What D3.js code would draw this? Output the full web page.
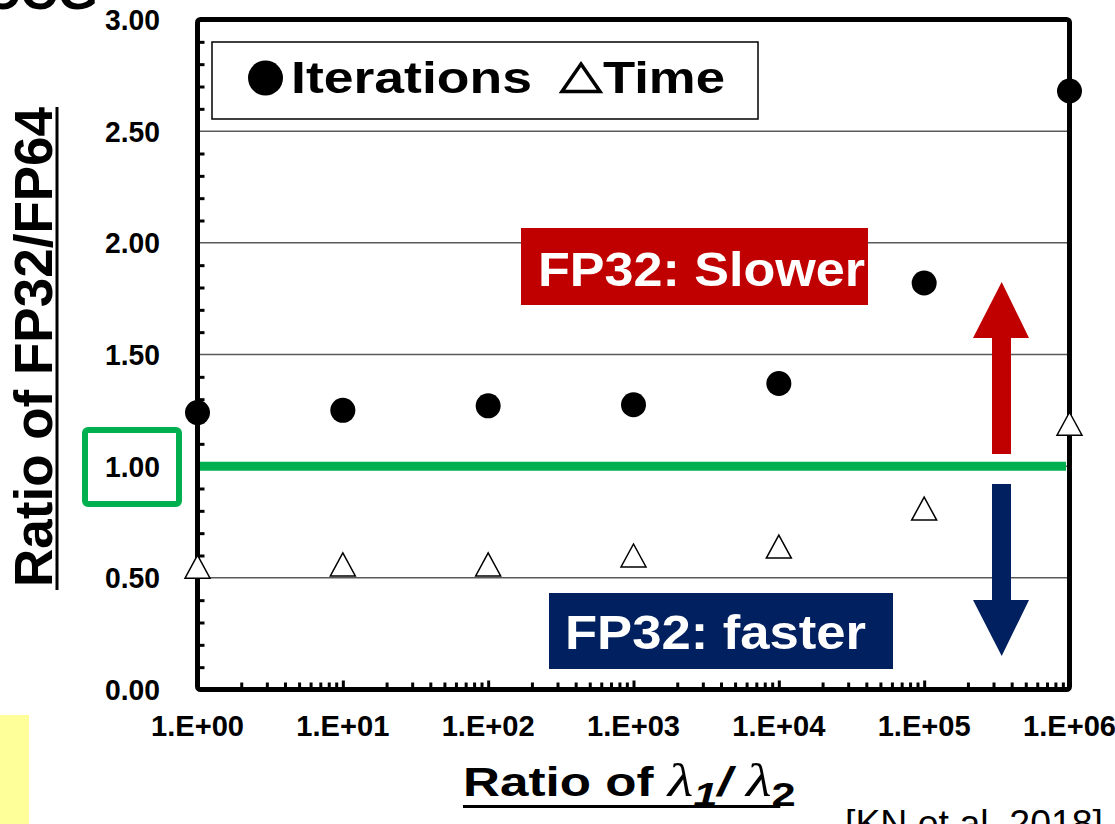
<!DOCTYPE html>
<html>
<head>
<meta charset="utf-8">
<script src="https://cdn.jsdelivr.net/npm/d3@7"></script>
<style>
  body { margin: 0; background: #fff; }
  svg { display: block; font-family: "Liberation Sans", Arial, sans-serif; }
</style>
</head>
<body>
<div id="chart"></div>
<script>
// values
const lambdaRatio = [1, 1e1, 1e2, 1e3, 1e4, 1e5, 1e6];
const iterations = [1.24, 1.25, 1.27, 1.275, 1.37, 1.82, 2.68];
const timeRatio = [0.55, 0.56, 0.56, 0.60, 0.64, 0.81, 1.19];
const xTickLabels = ["1.E+00", "1.E+01", "1.E+02", "1.E+03", "1.E+04", "1.E+05", "1.E+06"];
const yTicks = [0, 0.5, 1, 1.5, 2, 2.5, 3];
const yTickLabels = ["0.00", "0.50", "1.00", "1.50", "2.00", "2.50", "3.00"];

const W = 1115, H = 824;
const plot = {left: 197.5, right: 1069.5, top: 19.5, bottom: 689.5};
const serif = "'Liberation Serif', 'Times New Roman', serif";

const svg = d3.select("#chart").append("svg")
    .attr("width", W)
    .attr("height", H);

const x = d3.scaleLog().domain([1, 1e6]).range([plot.left, plot.right]);
const y = d3.scaleLinear().domain([0, 3]).range([plot.bottom, plot.top]);

// slide title, mostly off the top edge
svg.append("text")
    .attr("x", 98).attr("y", 9)
    .attr("text-anchor", "end")
    .attr("font-size", 52).attr("font-weight", "bold")
    .text("ICCG");

// yellow strip at bottom left
svg.append("rect")
    .attr("x", 0).attr("y", 715).attr("width", 29).attr("height", 109)
    .attr("fill", "#ffff99");

// horizontal gridlines
svg.append("g")
    .selectAll("line")
    .data(yTicks.slice(1, -1))
    .join("line")
    .attr("x1", plot.left).attr("x2", plot.right)
    .attr("y1", d => y(d)).attr("y2", d => y(d))
    .attr("stroke", "#595959").attr("stroke-width", 1.5);

// minor ticks on y axis, pointing inward
const yMinor = d3.range(1, 30).map(i => i / 10).filter(v => Math.abs(v * 2 - Math.round(v * 2)) > 1e-6);
svg.append("g")
    .attr("transform", "translate(" + plot.left + ",0)")
    .call(d3.axisRight(y).tickValues(yMinor).tickSize(7).tickFormat(""))
    .call(g => g.select(".domain").remove())
    .selectAll("line").attr("stroke", "#000").attr("stroke-width", 3);

// minor + major ticks on log x axis
let xMinor = [];
for (let d = 0; d < 6; d++) {
    for (let k = 2; k <= 9; k++) xMinor.push(k * Math.pow(10, d));
}
svg.append("g")
    .attr("transform", "translate(0," + plot.bottom + ")")
    .call(d3.axisBottom(x).tickValues(xMinor).tickSize(-7).tickFormat(""))
    .call(g => g.select(".domain").remove())
    .selectAll("line").attr("stroke", "#000").attr("stroke-width", 3);
svg.append("g")
    .attr("transform", "translate(0," + plot.bottom + ")")
    .call(d3.axisBottom(x).tickValues(lambdaRatio.slice(1, -1)).tickSize(-9).tickFormat(""))
    .call(g => g.select(".domain").remove())
    .selectAll("line").attr("stroke", "#000").attr("stroke-width", 3);

// thick frame
svg.append("rect")
    .attr("x", plot.left).attr("y", plot.top)
    .attr("width", plot.right - plot.left).attr("height", plot.bottom - plot.top)
    .attr("rx", 3)
    .attr("fill", "none").attr("stroke", "#000").attr("stroke-width", 5);

// y tick labels
svg.append("g")
    .selectAll("text")
    .data(yTicks)
    .join("text")
    .attr("x", 160).attr("y", d => y(d) + 10.5)
    .attr("text-anchor", "end")
    .attr("font-size", 29).attr("font-weight", "bold")
    .attr("textLength", 55).attr("lengthAdjust", "spacingAndGlyphs")
    .text((d, i) => yTickLabels[i]);

// x tick labels
svg.append("g")
    .selectAll("text")
    .data(lambdaRatio)
    .join("text")
    .attr("x", d => x(d)).attr("y", 735.5)
    .attr("text-anchor", "middle")
    .attr("font-size", 30).attr("font-weight", "bold")
    .attr("textLength", 93).attr("lengthAdjust", "spacingAndGlyphs")
    .text((d, i) => xTickLabels[i]);

// green box around 1.00 label
svg.append("rect")
    .attr("x", 85).attr("y", 430).attr("width", 94).attr("height", 74)
    .attr("rx", 3)
    .attr("fill", "none").attr("stroke", "#00b050").attr("stroke-width", 6);

// green reference line at 1.0
svg.append("line")
    .attr("x1", 200).attr("x2", 1066)
    .attr("y1", y(1)).attr("y2", y(1))
    .attr("stroke", "#00b050").attr("stroke-width", 9);

// legend
const legend = svg.append("g");
legend.append("rect")
    .attr("x", 212).attr("y", 42).attr("width", 546).attr("height", 77)
    .attr("fill", "#fff").attr("stroke", "#000").attr("stroke-width", 1.5);
legend.append("circle")
    .attr("cx", 265.5).attr("cy", 78).attr("r", 17.5).attr("fill", "#000");
legend.append("text")
    .attr("x", 291).attr("y", 93)
    .attr("font-size", 44).attr("font-weight", "bold")
    .attr("textLength", 241).attr("lengthAdjust", "spacingAndGlyphs")
    .text("Iterations");
legend.append("path")
    .attr("d", "M581,64 L600,91.5 L562,91.5 Z")
    .attr("fill", "none").attr("stroke", "#000").attr("stroke-width", 3.5);
legend.append("text")
    .attr("x", 603).attr("y", 93)
    .attr("font-size", 44).attr("font-weight", "bold")
    .attr("textLength", 122).attr("lengthAdjust", "spacingAndGlyphs")
    .text("Time");

// data points
svg.append("g")
    .selectAll("circle")
    .data(lambdaRatio)
    .join("circle")
    .attr("cx", d => x(d)).attr("cy", (d, i) => y(iterations[i]))
    .attr("r", 12.5).attr("fill", "#000");

svg.append("g")
    .selectAll("path")
    .data(lambdaRatio)
    .join("path")
    .attr("transform", (d, i) => "translate(" + x(d) + "," + y(timeRatio[i]) + ")")
    .attr("d", "M0,-11.5 L12.5,11.5 L-12.5,11.5 Z")
    .attr("fill", "#fff").attr("stroke", "#000").attr("stroke-width", 1.5);

// arrows
svg.append("path")
    .attr("d", "M992,454 L992,338 L973,338 L1001.7,282 L1029,338 L1011,338 L1011,454 Z")
    .attr("fill", "#c00000");
svg.append("path")
    .attr("d", "M992,484 L992,600 L973,600 L1001.7,656 L1029,600 L1011,600 L1011,484 Z")
    .attr("fill", "#002060");

// labels
svg.append("rect")
    .attr("x", 521).attr("y", 228).attr("width", 347).attr("height", 77)
    .attr("fill", "#c00000");
svg.append("text")
    .attr("x", 538).attr("y", 286)
    .attr("font-size", 48).attr("font-weight", "bold").attr("fill", "#fff")
    .attr("textLength", 327).attr("lengthAdjust", "spacingAndGlyphs")
    .text("FP32: Slower");

svg.append("rect")
    .attr("x", 549).attr("y", 593).attr("width", 344).attr("height", 76)
    .attr("fill", "#002060");
svg.append("text")
    .attr("x", 565).attr("y", 649)
    .attr("font-size", 48).attr("font-weight", "bold").attr("fill", "#fff")
    .attr("textLength", 301).attr("lengthAdjust", "spacingAndGlyphs")
    .text("FP32: faster");

// y axis title
const yTitle = svg.append("text")
    .attr("transform", "translate(52,587) rotate(-90)")
    .attr("font-size", 53).attr("font-weight", "bold")
    .text("Ratio of FP32/FP64");
const yLen = yTitle.node().getComputedTextLength();
svg.append("line")
    .attr("x1", 57).attr("x2", 57)
    .attr("y1", 590).attr("y2", 587 - yLen)
    .attr("stroke", "#000").attr("stroke-width", 3);

// x axis title (slide text is stretched sideways)
const xTitleG = svg.append("g")
    .attr("transform", "translate(463,796) scale(1.28,1)");
const xTitle = xTitleG.append("text")
    .attr("x", 0).attr("y", 0)
    .attr("font-size", 40).attr("font-weight", "bold");
xTitle.append("tspan").text("Ratio of ");
xTitle.append("tspan").attr("font-family", serif).attr("font-weight", "normal")
    .attr("font-style", "italic").attr("font-size", 46).text("λ");
xTitle.append("tspan").attr("font-style", "italic").attr("font-size", 34).attr("dy", 10).text("1");
xTitle.append("tspan").attr("font-style", "italic").attr("dy", -10).text("/ ");
xTitle.append("tspan").attr("font-family", serif).attr("font-weight", "normal")
    .attr("font-style", "italic").attr("font-size", 46).text("λ");
xTitle.append("tspan").attr("font-size", 34).attr("dy", 10).text("2");
const xLen = xTitle.node().getComputedTextLength();
xTitleG.append("line")
    .attr("x1", 0).attr("x2", xLen - 12)
    .attr("y1", 10.5).attr("y2", 10.5)
    .attr("stroke", "#000").attr("stroke-width", 3);

// citation, cut off at the bottom
svg.append("text")
    .attr("x", 845).attr("y", 836)
    .attr("font-size", 36)
    .attr("textLength", 258).attr("lengthAdjust", "spacingAndGlyphs")
    .text("[KN et al. 2018]");
</script>
</body>
</html>
